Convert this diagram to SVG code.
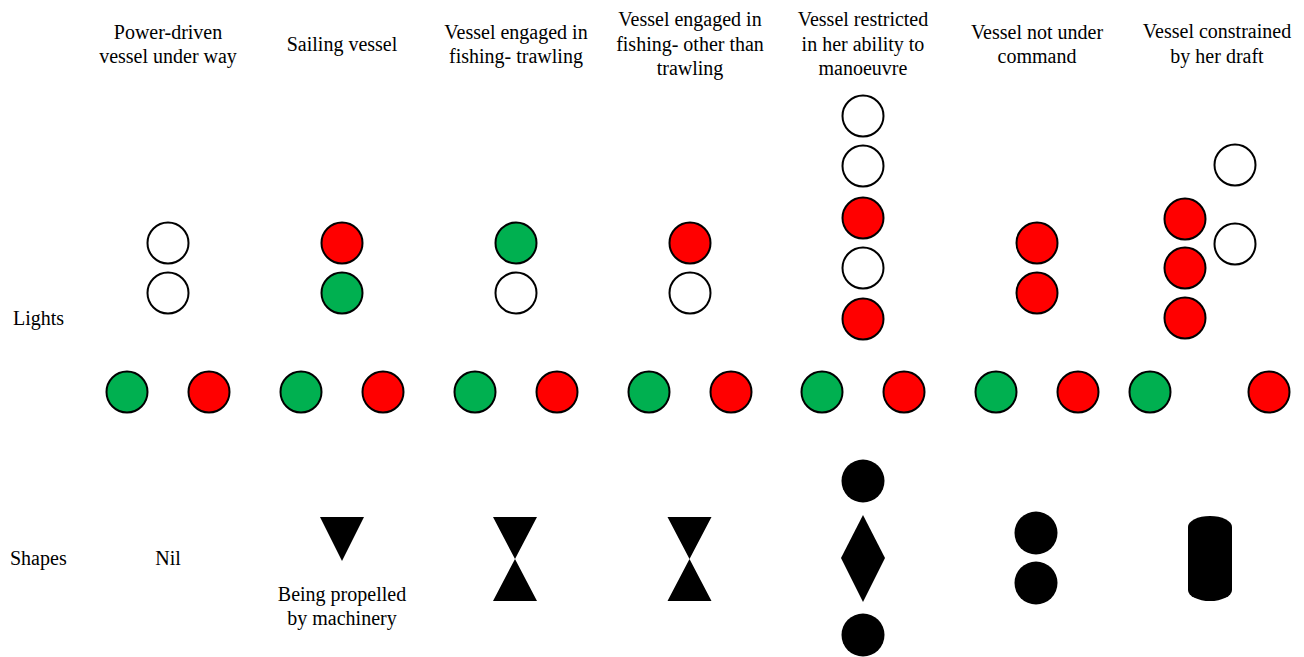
<svg xmlns="http://www.w3.org/2000/svg" width="1304" height="657" viewBox="0 0 1304 657">
  <style>
    text { font-family: 'Liberation Serif', 'DejaVu Serif', serif; font-size: 20px; fill: #000; }
    .c { text-anchor: middle; }
    .lamp { stroke: #000; stroke-width: 2; }
    .w { fill: #fff; }
    .r { fill: #ff0000; }
    .g { fill: #00b050; }
    .shape { fill: #000; }
  </style>
  <rect width="1304" height="657" fill="#fff"/>

  <g font-family="Liberation Serif, DejaVu Serif, serif" font-size="20">
  <!-- row labels -->
  <g id="row-labels">
    <text x="13" y="325">Lights</text>
    <text x="10" y="565">Shapes</text>
  </g>

  <!-- Power-driven vessel under way -->
  <g id="power-driven">
    <text class="c" x="168" y="39">Power-driven</text>
    <text class="c" x="168" y="63">vessel under way</text>
    <circle class="lamp w" cx="168" cy="243" r="20.5"/>
    <circle class="lamp w" cx="168" cy="293" r="20.5"/>
    <circle class="lamp g" cx="127" cy="392" r="20.5"/>
    <circle class="lamp r" cx="209" cy="392" r="20.5"/>
    <text class="c" x="168" y="565">Nil</text>
  </g>

  <!-- Sailing vessel -->
  <g id="sailing">
    <text class="c" x="342" y="51">Sailing vessel</text>
    <circle class="lamp r" cx="342" cy="243" r="20.5"/>
    <circle class="lamp g" cx="342" cy="293" r="20.5"/>
    <circle class="lamp g" cx="301" cy="392" r="20.5"/>
    <circle class="lamp r" cx="383" cy="392" r="20.5"/>
    <polygon class="shape" points="320,517 364,517 342,561"/>
    <text class="c" x="342" y="601">Being propelled</text>
    <text class="c" x="342" y="625">by machinery</text>
  </g>

  <!-- Fishing, trawling -->
  <g id="trawling">
    <text class="c" x="516" y="39">Vessel engaged in</text>
    <text class="c" x="516" y="63">fishing- trawling</text>
    <circle class="lamp g" cx="516" cy="243" r="20.5"/>
    <circle class="lamp w" cx="516" cy="293" r="20.5"/>
    <circle class="lamp g" cx="475" cy="392" r="20.5"/>
    <circle class="lamp r" cx="557" cy="392" r="20.5"/>
    <polygon class="shape" points="493,517 537,517 515,559 537,601 493,601 515,559"/>
  </g>

  <!-- Fishing, other than trawling -->
  <g id="fishing-other">
    <text class="c" x="690" y="26">Vessel engaged in</text>
    <text class="c" x="690" y="51">fishing- other than</text>
    <text class="c" x="690" y="75">trawling</text>
    <circle class="lamp r" cx="690" cy="243" r="20.5"/>
    <circle class="lamp w" cx="690" cy="293" r="20.5"/>
    <circle class="lamp g" cx="649" cy="392" r="20.5"/>
    <circle class="lamp r" cx="731" cy="392" r="20.5"/>
    <polygon class="shape" points="667.5,517 711.5,517 689.5,559 711.5,601 667.5,601 689.5,559"/>
  </g>

  <!-- Restricted in her ability to manoeuvre -->
  <g id="restricted">
    <text class="c" x="863" y="26">Vessel restricted</text>
    <text class="c" x="863" y="51">in her ability to</text>
    <text class="c" x="863" y="75">manoeuvre</text>
    <circle class="lamp w" cx="863" cy="116" r="20.5"/>
    <circle class="lamp w" cx="863" cy="166" r="20.5"/>
    <circle class="lamp r" cx="863" cy="218" r="20.5"/>
    <circle class="lamp w" cx="863" cy="268" r="20.5"/>
    <circle class="lamp r" cx="863" cy="319" r="20.5"/>
    <circle class="lamp g" cx="822" cy="392" r="20.5"/>
    <circle class="lamp r" cx="904" cy="392" r="20.5"/>
    <circle class="shape" cx="863" cy="481" r="21.5"/>
    <polygon class="shape" points="863,515 885,558 863,602 841,558"/>
    <circle class="shape" cx="863" cy="635" r="21.5"/>
  </g>

  <!-- Not under command -->
  <g id="not-under-command">
    <text class="c" x="1037" y="39">Vessel not under</text>
    <text class="c" x="1037" y="63">command</text>
    <circle class="lamp r" cx="1037" cy="243" r="20.5"/>
    <circle class="lamp r" cx="1037" cy="293" r="20.5"/>
    <circle class="lamp g" cx="996" cy="392" r="20.5"/>
    <circle class="lamp r" cx="1078" cy="392" r="20.5"/>
    <circle class="shape" cx="1036" cy="533" r="21.5"/>
    <circle class="shape" cx="1036" cy="583" r="21.5"/>
  </g>

  <!-- Constrained by her draft -->
  <g id="constrained">
    <text class="c" x="1217" y="38">Vessel constrained</text>
    <text class="c" x="1217" y="63">by her draft</text>
    <circle class="lamp w" cx="1235" cy="165" r="20.5"/>
    <circle class="lamp w" cx="1235" cy="244" r="20.5"/>
    <circle class="lamp r" cx="1185" cy="219" r="20.5"/>
    <circle class="lamp r" cx="1185" cy="268" r="20.5"/>
    <circle class="lamp r" cx="1185" cy="318" r="20.5"/>
    <circle class="lamp g" cx="1150" cy="392" r="20.5"/>
    <circle class="lamp r" cx="1269" cy="392" r="20.5"/>
    <rect class="shape" x="1188" y="516" width="44" height="85" rx="22" ry="11"/>
  </g>
  </g>
</svg>
